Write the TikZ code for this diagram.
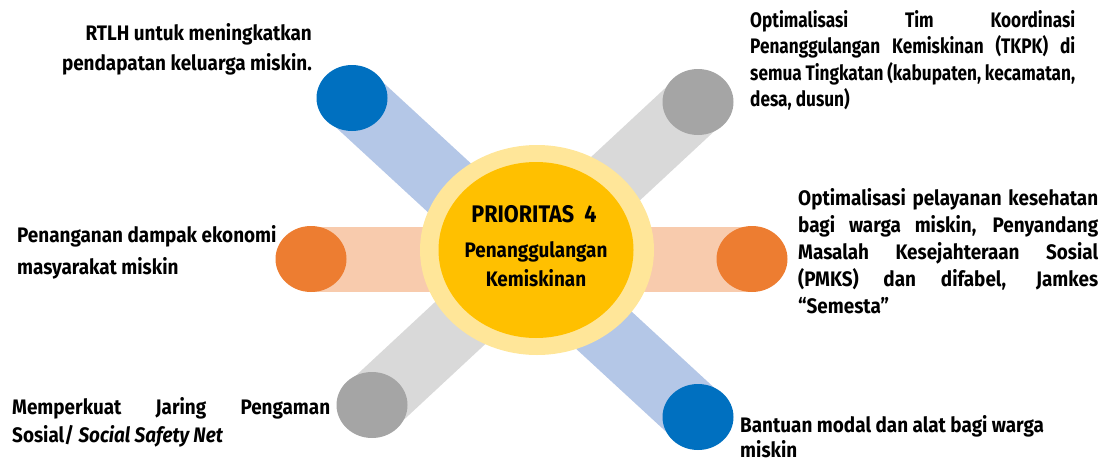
\documentclass[tikz,border=0pt]{standalone}
\usepackage{fontspec}
\setmainfont{Fira Sans}[FakeStretch=0.90]
\newfontfamily\narrowf{Fira Sans}[FakeStretch=0.82]
\definecolor{cblue}{HTML}{0070C0}
\definecolor{lblue}{HTML}{B4C7E7}
\definecolor{cgray}{HTML}{A5A5A5}
\definecolor{lgray}{HTML}{D9D9D9}
\definecolor{corange}{HTML}{ED7D31}
\definecolor{lorange}{HTML}{F8CBAD}
\definecolor{cgold}{HTML}{FFC000}
\definecolor{lgold}{HTML}{FFE699}
\newcommand\jl[2]{\makebox[#1][s]{#2}}
\tikzset{
  band/.style={line width=65pt},
  endball/.style={ellipse, minimum width=71pt, minimum height=66pt, inner sep=0pt},
  lbl/.style={inner sep=0pt, font=\fontsize{21}{27}\selectfont\bfseries},
}
\usetikzlibrary{shapes.geometric}
\begin{document}
\begin{tikzpicture}[x=1pt,y=-1pt]
\useasboundingbox (0,0) rectangle (1105,463);
% end balls (positions)
\coordinate (tl) at (352,98);
\coordinate (br) at (698,417);
\coordinate (tr) at (698,102);
\coordinate (bl) at (372,405);
\coordinate (ml) at (311,259);
\coordinate (mr) at (752,259);
% bands
\draw[band, lblue] (tl) -- (br);
\draw[band, lgray] (tr) -- (bl);
\draw[band, lorange] (ml) -- (mr);
% balls
\node[endball, fill=cblue] (btl) at (tl) {};
\node[endball, fill=cblue] (bbr) at (br) {};
\node[endball, fill=cgray] (btr) at (tr) {};
\node[endball, fill=cgray] (bbl) at (bl) {};
\node[endball, fill=corange] (bml) at (ml) {};
\node[endball, fill=corange] (bmr) at (mr) {};
% centre
\node[ellipse, fill=lgold, minimum width=234pt, minimum height=210pt, inner sep=0pt] (outer) at (537,250) {};
\node[ellipse, fill=cgold, minimum width=195pt, minimum height=176pt, inner sep=0pt] (inner) at (536,250) {};
\node[inner sep=0pt, font=\fontsize{24}{30}\selectfont\bfseries, anchor=base] (prio) at (534,222) {PRIORITAS\ \ 4};
\node[inner sep=0pt, font=\fontsize{21}{29}\selectfont\bfseries, align=center, anchor=north] (pk) at (536,241) {Penanggulangan\\Kemiskinan};
% labels
\node[lbl, align=right, anchor=north east, font=\fontsize{21}{30}\selectfont\bfseries] (t1) at (312,23) {RTLH untuk meningkatkan\\pendapatan keluarga miskin.};
\node[lbl, align=left, anchor=north west, font=\narrowf\fontsize{21}{26.5}\selectfont\bfseries] (t2) at (750,10) {\jl{325pt}{Optimalisasi Tim Koordinasi}\\\jl{325pt}{Penanggulangan Kemiskinan (TKPK) di}\\\jl{325pt}{semua Tingkatan (kabupaten, kecamatan,}\\desa, dusun)};
\node[lbl, align=left, anchor=north west] (t3) at (798,188) {\jl{300pt}{Optimalisasi pelayanan kesehatan}\\\jl{300pt}{bagi warga miskin, Penyandang}\\\jl{300pt}{Masalah Kesejahteraan Sosial}\\\jl{300pt}{(PMKS) dan difabel, Jamkes}\\``Semesta''};
\node[lbl, align=left, anchor=north west, font=\fontsize{21}{32}\selectfont\bfseries] (t4) at (17,225) {Penanganan dampak ekonomi\\masyarakat miskin};
\node[lbl, align=left, anchor=north west, font=\fontsize{21}{28}\selectfont\bfseries] (t5) at (12,397) {\jl{318pt}{Memperkuat Jaring Pengaman}\\Sosial/ \textit{Social Safety Net}};
\node[lbl, align=left, anchor=north west, font=\fontsize{21}{25}\selectfont\bfseries] (t6) at (740,415) {Bantuan modal dan alat bagi warga\\miskin};
\end{tikzpicture}
\end{document}
